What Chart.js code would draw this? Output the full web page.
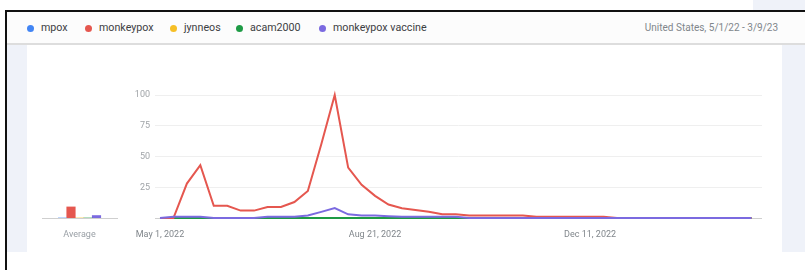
<!DOCTYPE html>
<html>
<head>
<meta charset="utf-8">
<script src="https://cdn.jsdelivr.net/npm/chart.js@4.4.1/dist/chart.umd.min.js"></script>
<style>
  html, body { margin: 0; padding: 0; background: #fff; }
  body { width: 805px; height: 270px; position: relative; overflow: hidden; font-family: Roboto, 'Noto Sans', sans-serif; }
  .corner { position: absolute; left: 753px; top: 0; width: 52px; height: 10px; background: #eff2f9; }
  .frame-top { position: absolute; left: 5px; top: 10px; width: 800px; height: 2px; background: #111; }
  .frame-left { position: absolute; left: 5px; top: 10px; width: 2px; height: 260px; background: #111; }
  .header { position: absolute; left: 7px; top: 12px; width: 798px; height: 31px; background: #fcfcfc; border-bottom: 2px solid #ddd; }
  .side { position: absolute; top: 45px; height: 207px; background: #eff2f9; }
  .legend { position: absolute; top: 20px; height: 16px; font-size: 10.7px; color: #3c4043; }
  .legend span.item { position: absolute; white-space: nowrap; line-height: 16px; }
  .legend span.dot { position: absolute; width: 7px; height: 7px; border-radius: 50%; top: 4.5px; }
  .region { position: absolute; right: 27px; top: 20px; line-height: 16px; font-size: 10px; color: #80868b; }
  canvas { position: absolute; }
</style>
</head>
<body>
<div class="corner"></div>
<div class="header"></div>
<div class="side" style="left:7px;width:20px"></div>
<div class="side" style="left:782px;width:23px"></div>
<div class="frame-top"></div>
<div class="frame-left"></div>
<div class="legend" id="legend"></div>
<div class="region">United States, 5/1/22 - 3/9/23</div>
<canvas id="avg" style="left:30px;top:80px" width="100" height="160"></canvas>
<canvas id="trend" style="left:120px;top:80px" width="660" height="160"></canvas>
<script>
/* Search terms and colours */
var TERMS = ['mpox', 'monkeypox', 'jynneos', 'acam2000', 'monkeypox vaccine'];
var COLORS = ['#4285f4', '#e5574f', '#f6bf26', '#1e9b45', '#7b6ae0'];
var LEGEND_X = [30, 88, 173, 239, 322];

/* Weekly interest, week 0 = May 1, 2022 (45 weeks) */
var MPOX = [0,0,0,0,0,0,0,0,0,0,0,0,0,0,0,0,0,0,0,0,0,0,0,0,0,0,0,0,0,0,0,0,0,0,0,0,0,0,0,0,0,0,0,0,0];
var MONKEYPOX = [0,0,28,43,10,10,6,6,9,9,13,22,60,100,41,27,18,11,8,6.5,5,3,3,2,2,2,2,2,1,1,1,1,1,1,0,0,0,0,0,0,0,0,0,0,0];
var JYNNEOS = [0,0,0,0,0,0,0,0,0,0,0,0,0,0,0,0,0,0,0,0,0,0,0,0,0,0,0,0,0,0,0,0,0,0,0,0,0,0,0,0,0,0,0,0,0];
var ACAM2000 = [0,0,0,0,0,0,0,0,0,0,0,0,0,0,0,0,0,0,0,0,0,0,0,0,0,0,0,0,0,0,0,0,0,0,0,0,0,0,0,0,0,0,0,0,0];
var VACCINE = [0,1,1,1,0,0,0,0,1,1,1,2,5,8,3,2,2,1.5,1,1,1,1,1,0,0,0,0,0,0,0,0,0,0,0,0,0,0,0,0,0,0,0,0,0,0];
var SERIES = [MPOX, MONKEYPOX, JYNNEOS, ACAM2000, VACCINE];

/* Averages per term */
var AVERAGES = [0, 9, 0, 0, 2];

/* Axis ticks */
var Y_TICKS = [0, 25, 50, 75, 100];
var X_TICK_WEEKS = [0, 16, 32];
var X_TICK_LABELS = ['May 1, 2022', 'Aug 21, 2022', 'Dec 11, 2022'];

/* HTML legend */
var legend = document.getElementById('legend');
TERMS.forEach(function (t, i) {
  var dot = document.createElement('span');
  dot.className = 'dot';
  dot.style.left = (LEGEND_X[i] - 3.5) + 'px';
  dot.style.background = COLORS[i];
  legend.appendChild(dot);
  var lbl = document.createElement('span');
  lbl.className = 'item';
  lbl.style.left = (LEGEND_X[i] + 11) + 'px';
  lbl.textContent = t;
  legend.appendChild(lbl);
});

Chart.defaults.font.family = "Roboto, 'Noto Sans', sans-serif";
Chart.defaults.font.size = 9;
Chart.defaults.animation = false;

/* Average bar chart */
new Chart(document.getElementById('avg'), {
  type: 'bar',
  data: {
    labels: ['Average'],
    datasets: AVERAGES.map(function (v, i) {
      return { label: TERMS[i], data: [v], backgroundColor: COLORS[i], barThickness: 8.5 };
    })
  },
  options: {
    responsive: false,
    layout: { padding: { left: 12, right: 13, top: 15, bottom: 0 } },
    plugins: { legend: { display: false }, tooltip: { enabled: false } },
    scales: {
      y: { display: false, min: 0, max: 100 },
      x: {
        afterFit: function (s) { s.height = 22; },
        grid: { display: false },
        border: { color: '#cfcfcf', width: 1 },
        ticks: { color: '#9aa0a6', padding: 3 }
      }
    }
  }
});

/* Draw order: mpox, jynneos, acam2000, monkeypox, vaccine on top */
var ORDER = [0, 2, 3, 1, 4];
var datasets = ORDER.map(function (k, n) {
  return {
    label: TERMS[k],
    data: SERIES[k].map(function (v, i) { return { x: i, y: v }; }),
    borderColor: COLORS[k],
    borderWidth: 2,
    pointRadius: 0,
    tension: 0,
    clip: false,
    order: ORDER.length - n
  };
});

new Chart(document.getElementById('trend'), {
  type: 'line',
  data: { datasets: datasets },
  options: {
    responsive: false,
    layout: { padding: { left: 0, right: 18, top: 15, bottom: 0 } },
    plugins: { legend: { display: false }, tooltip: { enabled: false } },
    scales: {
      x: {
        type: 'linear',
        min: -0.372,
        max: 44.79,
        afterFit: function (s) { s.height = 22; },
        afterBuildTicks: function (s) {
          s.ticks = X_TICK_WEEKS.map(function (w) { return { value: w }; });
        },
        grid: { display: false },
        border: { display: false },
        ticks: {
          color: '#80868b',
          padding: 3,
          maxRotation: 0,
          autoSkip: false,
          callback: function (v) {
            var idx = X_TICK_WEEKS.indexOf(v);
            return idx >= 0 ? X_TICK_LABELS[idx] : '';
          }
        }
      },
      y: {
        min: 0,
        max: 100,
        afterFit: function (s) { s.width = 35; },
        afterBuildTicks: function (s) {
          s.ticks = Y_TICKS.map(function (v) { return { value: v }; });
        },
        border: { display: false },
        grid: {
          drawTicks: false,
          color: function (c) { return c.tick && c.tick.value === 0 ? '#cfcfcf' : '#efefef'; }
        },
        ticks: {
          color: '#a0a4a8',
          padding: 5,
          callback: function (v) { return v === 0 ? '' : v; }
        }
      }
    }
  }
});
</script>
</body>
</html>
